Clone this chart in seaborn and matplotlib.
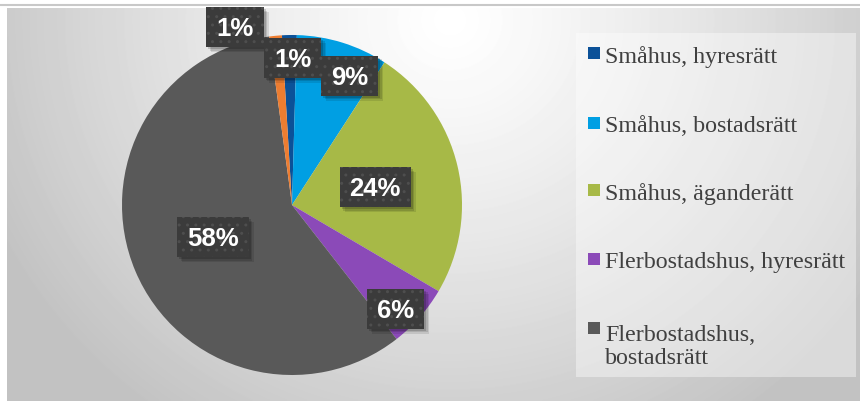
import numpy as np
import matplotlib
matplotlib.use("Agg")
import matplotlib.pyplot as plt
from matplotlib.patches import Rectangle
import seaborn as sns

# Housing stock by building type and tenure (share, %)
categories = [
    "Småhus, hyresrätt",
    "Småhus, bostadsrätt",
    "Småhus, äganderätt",
    "Flerbostadshus, hyresrätt",
    "Flerbostadshus,\nbostadsrätt",
    "Övrigt",
]
shares = [1.4, 8.7, 24.3, 6.0, 58.4, 1.2]
colors = ["#0b5198", "#009fe3", "#a7b947", "#8b4ab8", "#595959", "#ed7d31"]
legend_count = 5  # the last category is not listed in the legend

# label anchor points in pie units (radius = 1)
label_xy = [(0.003, 0.865), (0.340, 0.760), (0.490, 0.105),
            (0.610, -0.610), (-0.465, -0.190), (-0.335, 1.045)]

sns.set_theme(style="white")
plt.rcParams["font.family"] = ["Liberation Sans", "DejaVu Sans"]

W, H = 860, 401
fig = plt.figure(figsize=(W / 100, H / 100), dpi=100)


def fx(px):
    return px / W


def fy(py):
    return 1 - py / H


# chart area background: soft radial gradient
bg = fig.add_axes([fx(7), 0, 1 - fx(7), 1 - (8 / H)], zorder=-5)
gx = np.arange(7, W)
gy = np.arange(8, H)
X, Y = np.meshgrid(gx, gy)
d = np.sqrt(((X - 450) / 500.0) ** 2 + ((Y - 20) / 480.0) ** 2)
shade = 255 - 60 * np.clip(d, 0, 1) ** 1.2
bg.imshow(shade, cmap="gray", vmin=0, vmax=255, aspect="auto",
          interpolation="bilinear")
bg.set_axis_off()

# thin rule above the chart area
fig.add_artist(plt.Line2D([0, 1], [fy(5), fy(5)], color="#c8c8c8", lw=1.5,
                          transform=fig.transFigure))

# pie
cx, cy, r = 292, 205, 170
ax = fig.add_axes([fx(cx - r), fy(cy + r), 2 * r / W, 2 * r / H])
wedges, _ = ax.pie(shares, colors=colors, startangle=93.4, counterclock=False,
                   radius=1, wedgeprops=dict(linewidth=0, antialiased=True))
ax.set_aspect("auto")
ax.set_xlim(-1, 1)
ax.set_ylim(-1, 1)
ax.set_axis_off()

# data labels: white bold percent on dark textured boxes with shadow
px_unit = 1.0 / r
texts = []
total = sum(shares)
for val, (lx, ly) in zip(shares, label_xy):
    t = ax.text(lx, ly - 9 * px_unit, f"{val / total * 100:.0f}%",
                ha="center", va="baseline", color="white",
                fontsize=18.5, fontweight="bold", zorder=10, clip_on=False)
    texts.append((t, lx, ly))

fig.canvas.draw()
renderer = fig.canvas.get_renderer()
for t, lx, ly in texts:
    bb = t.get_window_extent(renderer)
    bw = (bb.width + 20) * px_unit
    bh = 40 * px_unit
    x0, y0 = lx - bw / 2, ly - bh / 2
    for k, a in enumerate([0.10, 0.12, 0.16]):
        off = (5 - k * 1.5) * px_unit
        ax.add_patch(Rectangle((x0 + off, y0 - off), bw, bh, facecolor="black",
                               edgecolor="none", alpha=a, zorder=7,
                               clip_on=False))
    ax.add_patch(Rectangle((x0, y0), bw, bh, facecolor="#3b3b3b",
                           edgecolor="none", zorder=8, clip_on=False))
    ax.add_patch(Rectangle((x0, y0), bw, bh, facecolor="none",
                           edgecolor="#4e4e4e", linewidth=0, hatch="..",
                           zorder=9, clip_on=False))

# legend panel
fig.add_artist(Rectangle((fx(576), fy(377)), fx(856) - fx(576),
                         fy(33) - fy(377), transform=fig.transFigure,
                         facecolor="white", alpha=0.4, edgecolor="none",
                         zorder=1))
baselines = [62.7, 132, 200, 268, 337]
line_pitch = 27
for name, col, base in zip(categories[:legend_count], colors, baselines):
    fig.add_artist(Rectangle((fx(588), fy(base - 3.5)), 12 / W, 12 / H,
                             transform=fig.transFigure, facecolor=col,
                             edgecolor="none", zorder=2))
    last_base = base + line_pitch * name.count("\n")
    fig.text(fx(605), fy(last_base), name, ha="left", va="baseline",
             fontsize=17.3, color="#404040", linespacing=1.12,
             family=["Liberation Serif", "DejaVu Serif"], zorder=3)

fig.savefig("out.png", dpi=100)
